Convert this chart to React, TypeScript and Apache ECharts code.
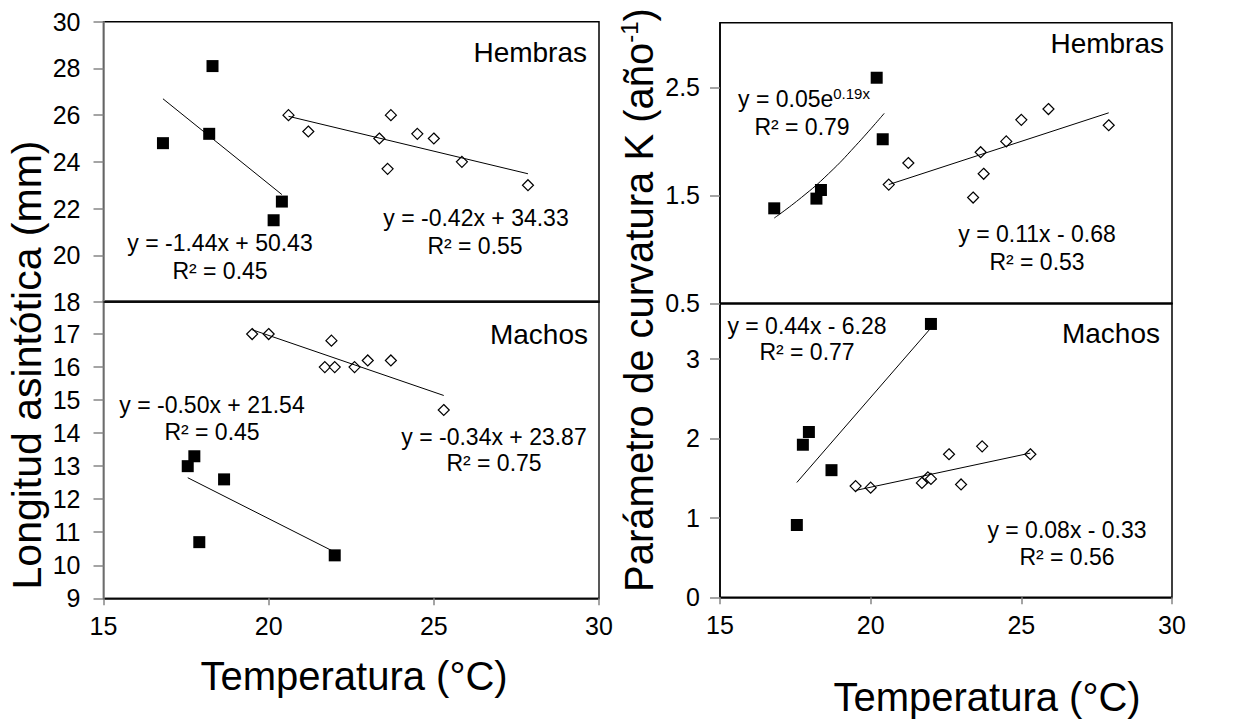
import React, { useEffect, useRef } from "react";
import * as echarts from "echarts";

const FONT = "'Liberation Sans', Arial, Helvetica, sans-serif";
const GRAY = "#868686";

// x axis (temperature) range shared by all panels
const xRange = [15, 30];
const xStep = 5;

// y axis ranges: [min, max, interval]
const yLongH = [18, 30, 2];
const yLongM = [9, 18, 1];
const yKH = [0.5, 3.1, 1];
const yKM = [0, 3.7, 1];

// Panel 1: Longitud asintótica, Hembras
const hLongSquares = [[16.8, 24.8], [18.3, 28.1], [18.2, 25.2], [20.4, 22.3], [20.15, 21.5]];
const hLongDiamonds = [[20.6, 26.0], [21.2, 25.3], [23.35, 25.0], [23.7, 26.0], [23.6, 23.7], [24.5, 25.2], [25.0, 25.0], [25.85, 24.0], [27.85, 23.0]];
const hLongSquareTrend = [[16.8, 26.7], [20.4, 22.6]];
const hLongDiamondTrend = [[20.6, 25.95], [27.85, 23.49]];

// Panel 2: Longitud asintótica, Machos
const mLongSquares = [[17.75, 13.3], [17.55, 13.0], [18.65, 12.6], [17.9, 10.7], [22.0, 10.3]];
const mLongDiamonds = [[19.5, 17.0], [20.0, 17.0], [21.9, 16.8], [21.7, 16.0], [22.0, 16.0], [22.6, 16.0], [23.0, 16.2], [23.7, 16.2], [25.3, 14.7]];
const mLongSquareTrend = [[17.55, 12.65], [22.0, 10.4]];
const mLongDiamondTrend = [[19.5, 17.13], [25.3, 15.14]];

// Panel 3: K, Hembras
const hKSquares = [[16.8, 1.38], [18.2, 1.47], [18.35, 1.55], [20.2, 2.59], [20.4, 2.02]];
const hKDiamonds = [[20.6, 1.6], [21.25, 1.8], [23.4, 1.48], [23.65, 1.9], [23.75, 1.7], [24.5, 2.0], [25.0, 2.2], [25.9, 2.3], [27.9, 2.15]];
const hKSquareTrend = [[16.8, 1.29], [17.7, 1.48], [18.6, 1.7], [19.5, 1.96], [20.45, 2.26]];
const hKDiamondTrend = [[20.6, 1.6], [27.9, 2.265]];

// Panel 4: K, Machos
const mKSquares = [[22.0, 3.44], [17.95, 2.08], [17.75, 1.92], [18.7, 1.6], [17.55, 0.91]];
const mKDiamonds = [[19.5, 1.4], [20.0, 1.38], [21.7, 1.44], [21.9, 1.51], [22.0, 1.49], [22.6, 1.8], [23.0, 1.42], [23.7, 1.9], [25.3, 1.8]];
const mKSquareTrend = [[17.55, 1.445], [22.0, 3.39]];
const mKDiamondTrend = [[19.5, 1.345], [25.3, 1.815]];

function xAxis(gridIndex: number, showLabels: boolean) {
  return {
    type: "value",
    gridIndex,
    min: xRange[0],
    max: xRange[1],
    interval: xStep,
    axisLine: { show: true, onZero: false, lineStyle: { color: "#000", width: 1.5 } },
    axisTick: { show: showLabels, length: 7, lineStyle: { color: GRAY, width: 1.5 } },
    axisLabel: { show: showLabels, fontSize: 25, color: "#000", fontFamily: FONT, margin: 15 },
    splitLine: { show: false },
  };
}

function yAxis(gridIndex: number, r: number[], lineColor: string, margin: number, showMax: boolean) {
  return {
    type: "value",
    gridIndex,
    min: r[0],
    max: r[1],
    interval: r[2],
    axisLine: { show: true, onZero: false, lineStyle: { color: lineColor, width: 1.5 } },
    axisTick: { show: true, length: 10, lineStyle: { color: GRAY, width: 1.5 } },
    axisLabel: { fontSize: 25, color: "#000", fontFamily: FONT, margin, showMaxLabel: showMax },
    splitLine: { show: false },
  };
}

const sq = (data: number[][], i: number) => ({
  type: "scatter", xAxisIndex: i, yAxisIndex: i, data, symbol: "rect", symbolSize: 12,
  itemStyle: { color: "#000", opacity: 1 }, z: 4, silent: true,
});
const dm = (data: number[][], i: number) => ({
  type: "scatter", xAxisIndex: i, yAxisIndex: i, data, symbol: "diamond", symbolSize: 11,
  itemStyle: { color: "#fff", borderColor: "#000", borderWidth: 1.2, opacity: 1 }, z: 2, silent: true,
});
const tr = (data: number[][], i: number, smooth = false) => ({
  type: "line", xAxisIndex: i, yAxisIndex: i, data, showSymbol: false, symbol: "none", smooth,
  lineStyle: { color: "#000", width: 1 }, z: 3, silent: true,
});

function txt(x: number, y: number, text: string, size: number, align = "center", extra: any = {}) {
  return {
    type: "text", x, y, silent: true, ...extra,
    style: { text, fontSize: size, fontFamily: FONT, fill: "#000", align, verticalAlign: "middle", ...(extra.style || {}) },
  };
}

export default function App() {
  const ref = useRef<HTMLDivElement>(null);
  useEffect(() => {
    const chart = echarts.init(ref.current!, null, { renderer: "svg" });
    const gridBase = { show: true, borderColor: "#000", borderWidth: 1.5, containLabel: false };
    const option: any = {
      animation: false,
      backgroundColor: "#fff",
      grid: [
        { ...gridBase, left: 103.5, top: 21.7, width: 495.5, height: 280.3 },
        { ...gridBase, left: 103.5, top: 301, width: 495.5, height: 297.3, borderColor: "#222" },
        { ...gridBase, left: 720, top: 22.7, width: 452, height: 280.6 },
        { ...gridBase, left: 720, top: 303.3, width: 452, height: 294 },
      ],
      xAxis: [xAxis(0, false), xAxis(1, true), xAxis(2, false), xAxis(3, true)],
      yAxis: [
        yAxis(0, yLongH, GRAY, 23, true),
        yAxis(1, yLongM, GRAY, 23, false),
        yAxis(2, yKH, "#000", 20, false),
        yAxis(3, yKM, "#000", 20, false),
      ],
      series: [
        dm(hLongDiamonds, 0), tr(hLongDiamondTrend, 0), tr(hLongSquareTrend, 0), sq(hLongSquares, 0),
        dm(mLongDiamonds, 1), tr(mLongDiamondTrend, 1), tr(mLongSquareTrend, 1), sq(mLongSquares, 1),
        dm(hKDiamonds, 2), tr(hKDiamondTrend, 2), tr(hKSquareTrend, 2, true), sq(hKSquares, 2),
        dm(mKDiamonds, 3), tr(mKDiamondTrend, 3), tr(mKSquareTrend, 3), sq(mKSquares, 3),
      ],
      graphic: [
        // panel labels
        txt(587, 52, "Hembras", 28, "right"),
        txt(588, 334, "Machos", 28, "right"),
        txt(1164, 43, "Hembras", 28, "right"),
        txt(1160, 333, "Machos", 28, "right"),
        // equations panel 1
        txt(220, 243, "y = -1.44x + 50.43", 23),
        txt(220, 271, "R² = 0.45", 23),
        txt(476, 218, "y = -0.42x + 34.33", 23),
        txt(475, 246, "R² = 0.55", 23),
        // panel 2
        txt(212, 405, "y = -0.50x + 21.54", 23),
        txt(212, 432, "R² = 0.45", 23),
        txt(494, 437, "y = -0.34x + 23.87", 23),
        txt(494, 463, "R² = 0.75", 23),
        // panel 3
        {
          type: "text", x: 738, y: 99, silent: true,
          style: {
            text: "{n|y = 0.05e}{s|0.19x}",
            align: "left", verticalAlign: "middle", fill: "#000",
            rich: {
              n: { fontSize: 23, fontFamily: FONT, fill: "#000", lineHeight: 26 },
              s: { fontSize: 15, fontFamily: FONT, fill: "#000", verticalAlign: "top", lineHeight: 16 },
            },
          },
        },
        txt(802, 127, "R² = 0.79", 23),
        txt(1037, 234, "y = 0.11x - 0.68", 23),
        txt(1037, 262, "R² = 0.53", 23),
        // panel 4
        txt(807, 326, "y = 0.44x - 6.28", 23),
        txt(807, 352, "R² = 0.77", 23),
        txt(1067, 530, "y = 0.08x - 0.33", 23),
        txt(1067, 557, "R² = 0.56", 23),
        // axis titles
        txt(27, 365, "Longitud asintótica (mm)", 41, "center", { rotation: Math.PI / 2 }),
        {
          type: "text", x: 639, y: 300, rotation: Math.PI / 2, silent: true,
          style: {
            text: "{n|Parámetro de curvatura K (año}{s|-1}{n|)}",
            align: "center", verticalAlign: "middle", fill: "#000",
            rich: {
              n: { fontSize: 40, fontFamily: FONT, fill: "#000", lineHeight: 44 },
              s: { fontSize: 24, fontFamily: FONT, fill: "#000", verticalAlign: "top", lineHeight: 24 },
            },
          },
        },
        txt(354, 676, "Temperatura (°C)", 40),
        txt(987, 697, "Temperatura (°C)", 40),
      ],
    };
    chart.setOption(option);
    return () => chart.dispose();
  }, []);
  return (
    <div
      ref={ref}
      style={{ position: "fixed", left: 0, top: 0, width: 1233, height: 719, background: "#fff" }}
    />
  );
}
